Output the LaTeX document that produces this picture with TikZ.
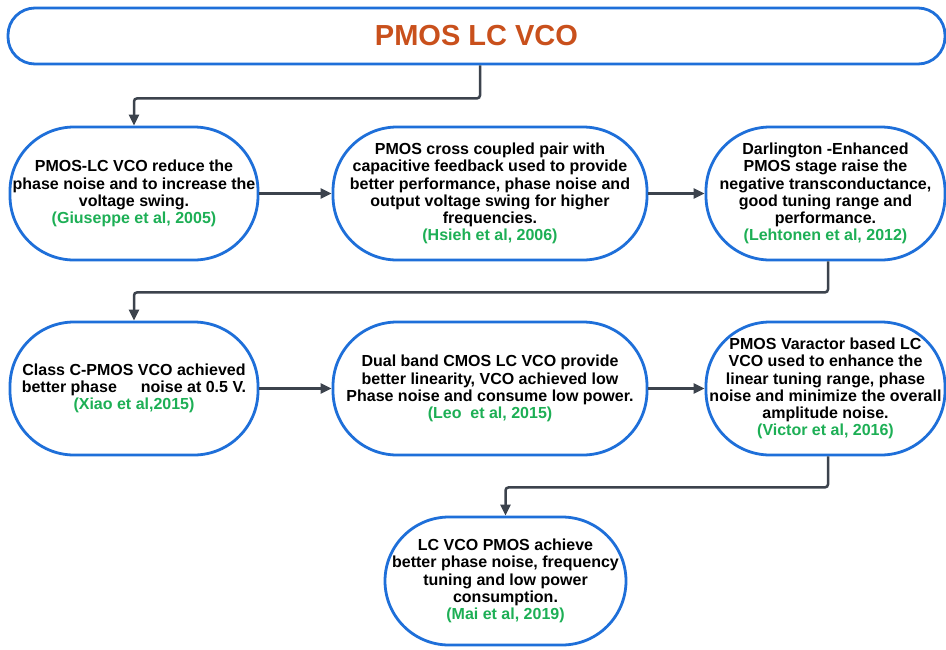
\documentclass[tikz,border=0pt]{standalone}
\usepackage{fontspec}
\setmainfont{Liberation Sans}
\usetikzlibrary{arrows.meta}
\definecolor{bordblue}{HTML}{1E6FD9}
\definecolor{linegray}{HTML}{3C434D}
\definecolor{citegreen}{HTML}{1DAF55}
\definecolor{titleorange}{HTML}{C9501C}
\newcommand{\refcite}[1]{{\color{citegreen}#1}}
\begin{document}
\begin{tikzpicture}[x=1pt,y=-1pt,
  box/.style={draw=bordblue, line width=2.8pt, rounded corners=64pt, fill=white,
    font=\fontsize{16}{17.2}\selectfont\bfseries, align=center, inner sep=0pt,
    minimum height=133pt},
  conn/.style={draw=linegray, line width=2.5pt, -{Triangle[length=11pt,width=10pt]}, rounded corners=3pt}]
\useasboundingbox (0,0) rectangle (946,649);
\fill[white] (0,0) rectangle (946,649);

\node[box, rounded corners=27pt, minimum width=937pt, minimum height=56pt,
  font=\fontsize{29}{34}\selectfont\bfseries, text=titleorange] (top) at (476.5,36) {PMOS LC VCO};

\node[box, minimum width=248pt] (b1) at (134,193.5)
  {PMOS-LC VCO reduce the\\phase noise and to increase the\\voltage swing.\\\refcite{(Giuseppe et al, 2005)}};
\node[box, minimum width=314pt] (b2) at (490,193.5)
  {PMOS cross coupled pair with\\capacitive feedback used to provide\\better performance, phase noise and\\output voltage swing for higher\\frequencies.\\\refcite{(Hsieh et al, 2006)}};
\node[box, minimum width=239pt] (b3) at (825.5,193.5)
  {Darlington -Enhanced\\PMOS stage raise the\\negative transconductance,\\good tuning range and\\performance.\\\refcite{(Lehtonen et al, 2012)}};

\node[box, minimum width=248pt] (b4) at (134,388.5)
  {Class C-PMOS VCO achieved\\better phase\hspace{24pt}noise at 0.5 V.\\\refcite{(Xiao et al,2015)}};
\node[box, minimum width=314pt] (b5) at (490,388.5)
  {Dual band CMOS LC VCO provide\\better linearity, VCO achieved low\\Phase noise and consume low power.\\\refcite{(Leo\ \ et al, 2015)}};
\node[box, minimum width=239pt] (b6) at (825.5,388.5)
  {PMOS Varactor based LC\\VCO used to enhance the\\linear tuning range, phase\\noise and minimize the overall\\amplitude noise.\\\refcite{(Victor et al, 2016)}};

\node[box, minimum width=241pt, minimum height=128pt] (b7) at (505.5,581)
  {LC VCO PMOS achieve\\better phase noise, frequency\\tuning and low power\\consumption.\\\refcite{(Mai et al, 2019)}};

\draw[conn] ([xshift=3.5pt]top.south) -- ++(0,33) -| (b1.north);
\draw[conn] (b1.east) -- (b2.west);
\draw[conn] (b2.east) -- (b3.west);
\draw[conn] ([xshift=2.5pt]b3.south) -- ++(0,31) -| (b4.north);
\draw[conn] (b4.east) -- (b5.west);
\draw[conn] (b5.east) -- (b6.west);
\draw[conn] ([xshift=2.5pt]b6.south) -- ++(0,31) -| (b7.north);
\end{tikzpicture}
\end{document}
